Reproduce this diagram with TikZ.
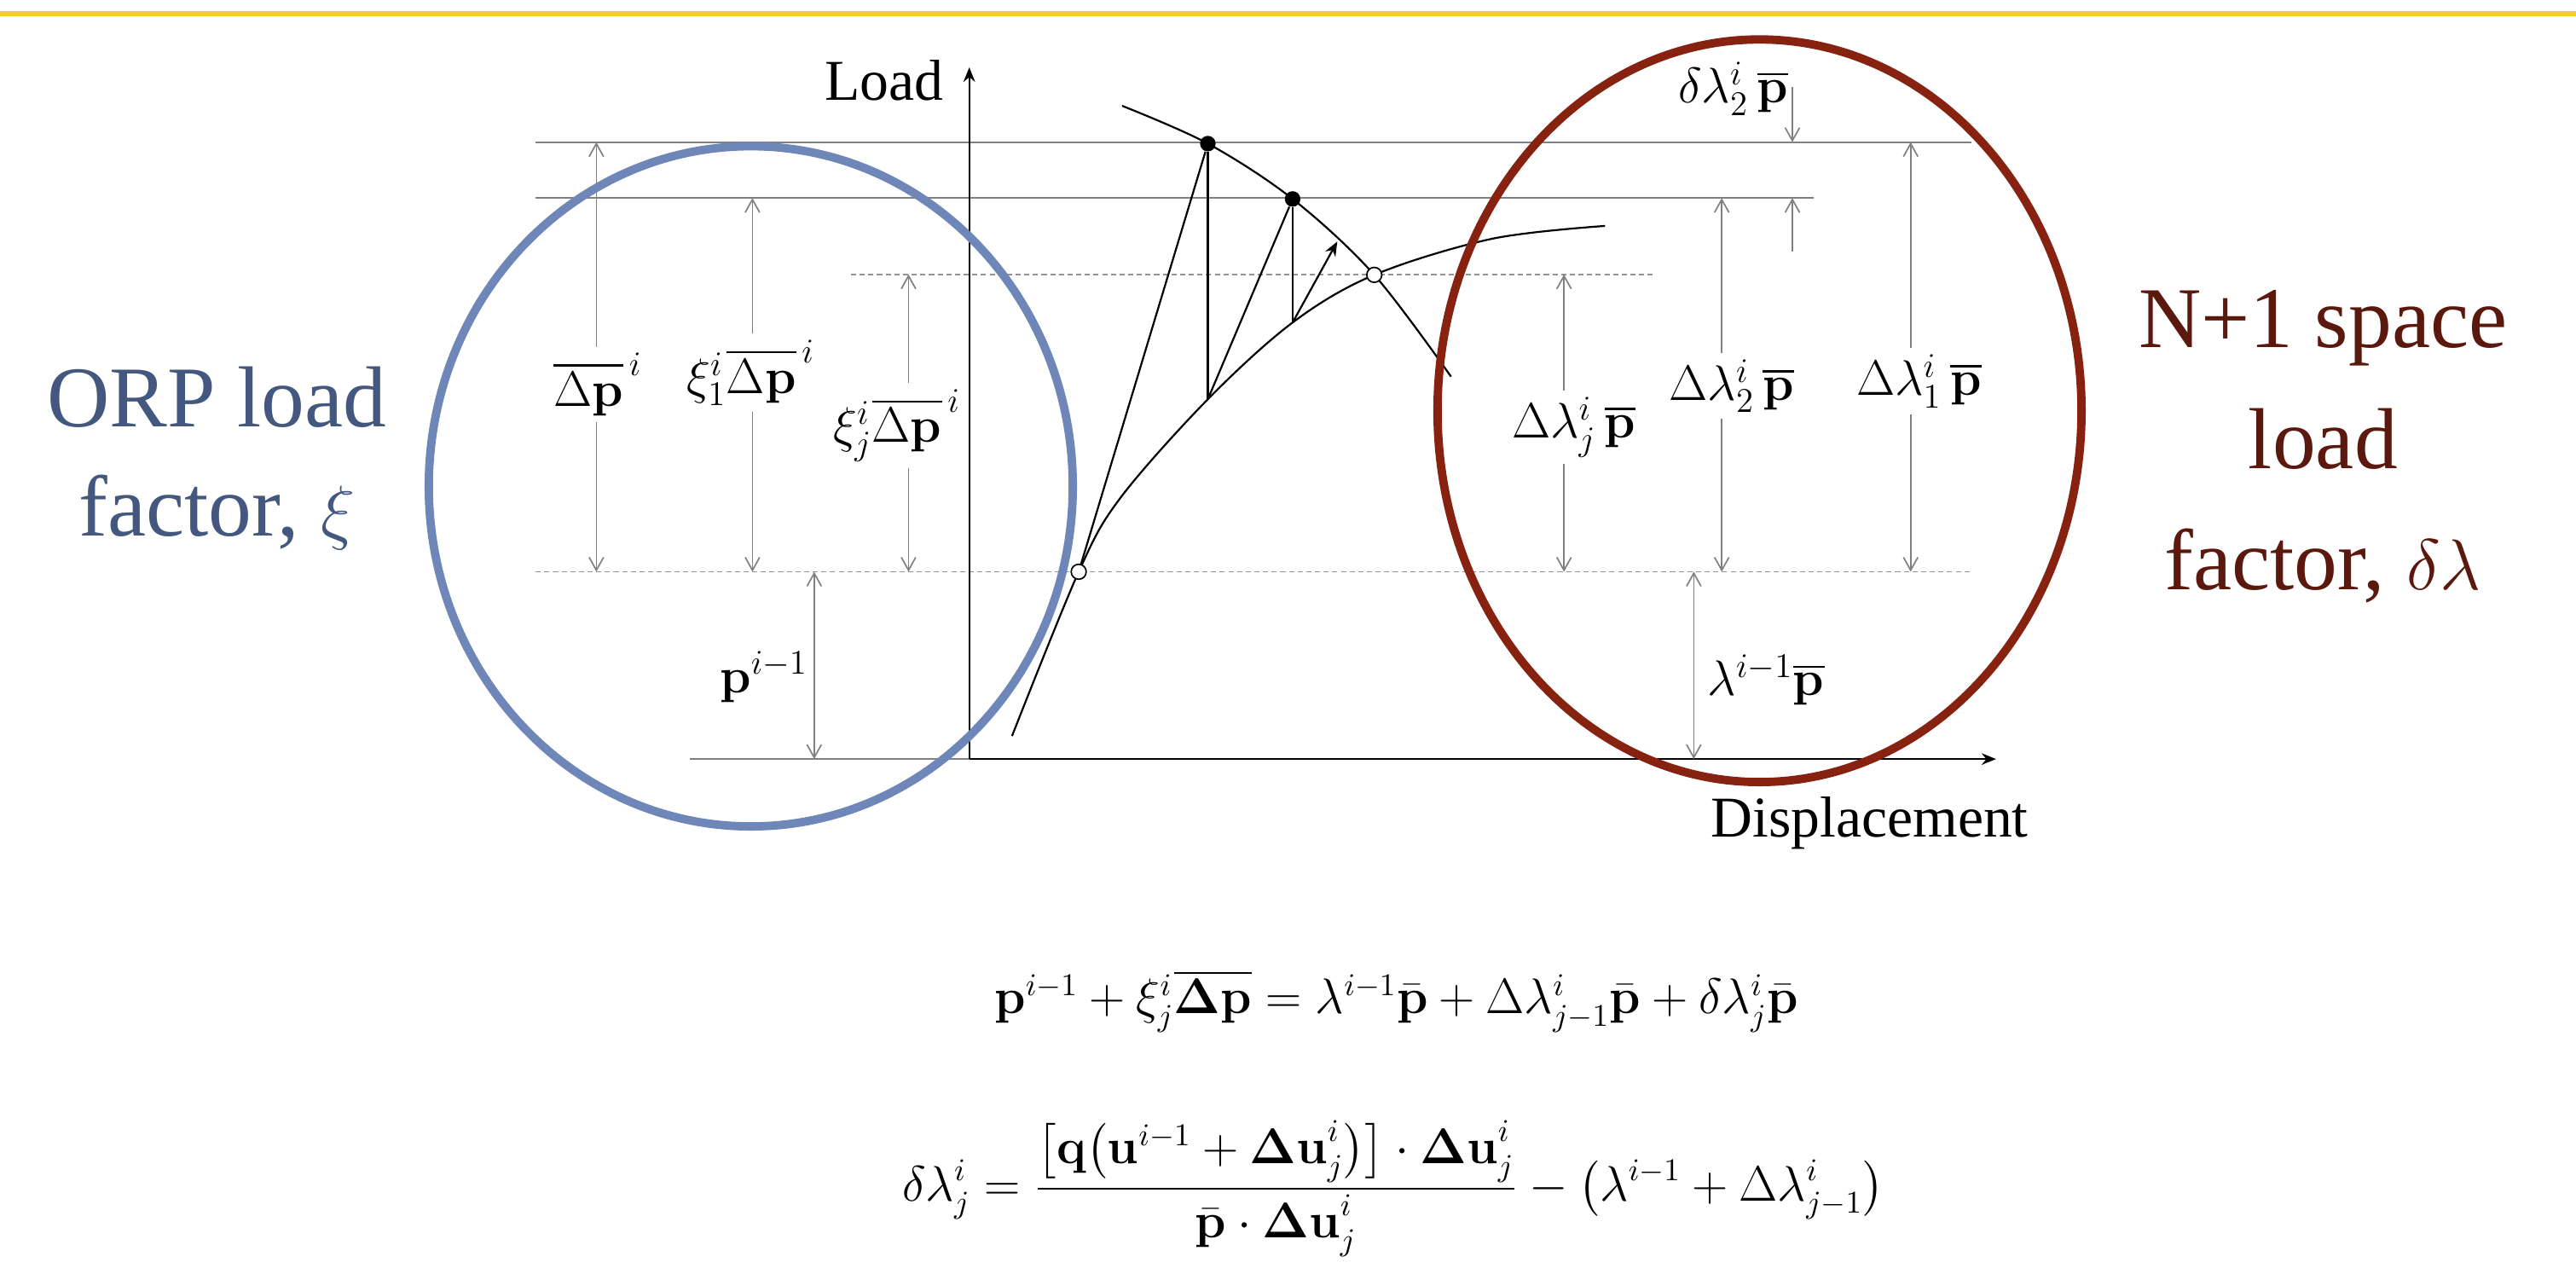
\documentclass[tikz,border=0pt]{standalone}
\usepackage{amsmath,amssymb}
\usepackage[no-math]{fontspec}
\setmainfont{Liberation Serif}
\usepackage{xcolor}
\usepackage{tikz}
\usetikzlibrary{arrows.meta}
\definecolor{cOrp}{HTML}{6F86B8}
\definecolor{cOrpT}{HTML}{44587F}
\definecolor{cNsp}{HTML}{86220F}
\definecolor{cNspT}{HTML}{5B180D}
\definecolor{cGr}{HTML}{808080}
\definecolor{cBar}{HTML}{F5CD2F}
\tikzset{
  orpRing/.style={line width=2.9pt, cOrp},
  nspRing/.style={line width=2.9pt, cNsp},
  gLine/.style={line width=0.6pt, cGr},
  dLine/.style={line width=0.5pt, cGr!85, dash pattern=on 1.8pt off 1.2pt},
  dimA/.style={line width=0.5pt, cGr, -{Straight Barb[length=4.5pt,width=5pt]}},
  dimAA/.style={line width=0.5pt, cGr, {Straight Barb[length=4.5pt,width=5pt]}-{Straight Barb[length=4.5pt,width=5pt]}},
  eqPath/.style={line width=0.65pt, black},
  axArr/.style={line width=0.65pt, black, -{Stealth[length=5pt,width=4pt]}},
  fdot/.style={circle, fill=black, inner sep=0pt, minimum size=5.4pt},
  odot/.style={circle, draw=black, fill=white, line width=0.5pt, inner sep=0pt, minimum size=5.2pt},
  lbl/.style={inner sep=2pt, font=\fontsize{17}{20}\selectfont},
}
\newcommand{\dimgap}[7]{\coordinate (#1t) at (#2,#3); \coordinate (#1b) at (#2,#4);
  \node[lbl] (#1) at (#5,#6) {#7};
  \draw[dimA] (#1t |- #1.north) -- (#1t); \draw[dimA] (#1t |- #1.south) -- (#1b);}

\begin{document}
\begin{tikzpicture}[x=0.02cm, y=-0.02cm]
\useasboundingbox (0,0) rectangle (1568,775);
\draw[line width=1.8pt, cBar] (0,8.3) -- (1568,8.3);
\draw[gLine] (326,86.5) -- (1200,86.5);
\draw[gLine] (326,120.5) -- (1104,120.5);
\draw[dLine] (518,167) -- (1008,167);
\draw[dLine] (326,348) -- (1200,348);
\draw[gLine] (420,462) -- (590,462);
\coordinate (O) at (590,462);
\coordinate (ytip) at (590,41);
\coordinate (xtip) at (1215,462);
\draw[axArr] (O) -- (ytip);
\draw[axArr] (O) -- (xtip);
\node[anchor=base, font=\fontsize{20}{24}\selectfont] (yl) at (538,61) {Load};
\node[anchor=base, font=\fontsize{20}{24}\selectfont] (xl) at (1138,509.5) {Displacement};
\draw[eqPath] plot[smooth, tension=0.55] coordinates {(616,448) (656.6,348) (682,303) (735.2,243) (786.8,196.3) (836.5,167.3) (908.3,145.3) (977,137.5)};
\draw[eqPath] plot[smooth, tension=0.55] coordinates {(683,64.4) (735.2,87.4) (786.8,121.1) (836.5,167.3) (883.2,229.2)};
\node[odot] (c0) at (656.6,348) {};
\node[fdot] (k1) at (735.2,87.4) {};
\node[fdot] (k2) at (786.8,121.1) {};
\node[odot] (c1) at (836.5,167.3) {};
\coordinate (e1) at (735.2,243);
\coordinate (e2) at (786.8,196.3);
\coordinate (r2) at (814,147);
\draw[eqPath] (c0) -- (k1);
\draw[eqPath] (k1) -- (e1);
\draw[eqPath] (e1) -- (k2);
\draw[eqPath] (k2) -- (e2);
\draw[eqPath, -{Stealth[length=5pt,width=4pt]}] (e2) -- (r2);
\dimgap{dp}{363}{86.5}{348}{364}{234}{$\overline{\Delta\mathbf{p}}^{\,i}$}
\dimgap{xa}{458}{120.5}{348}{457}{227}{$\xi_1^i\overline{\Delta\mathbf{p}}^{\,i}$}
\dimgap{xj}{553}{167}{348}{546}{259}{$\xi_j^i\overline{\Delta\mathbf{p}}^{\,i}$}
\dimgap{lj}{952}{167}{348}{958}{260}{$\Delta\lambda_j^i\,\overline{\mathbf{p}}$}
\dimgap{la}{1048}{120.5}{348}{1054}{235}{$\Delta\lambda_2^i\,\overline{\mathbf{p}}$}
\dimgap{lb}{1163}{86.5}{348}{1168}{232}{$\Delta\lambda_1^i\,\overline{\mathbf{p}}$}
\coordinate (pt) at (495.6,348); \coordinate (pb) at (495.6,462);
\draw[dimAA] (pt) -- (pb);
\node[lbl] (pl) at (465,412) {$\mathbf{p}^{i-1}$};
\coordinate (lt) at (1031,348); \coordinate (lbt) at (1031,462);
\draw[dimAA] (lt) -- (lbt);
\node[lbl] (ll) at (1075,414) {$\lambda^{i-1}\overline{\mathbf{p}}$};
\node[lbl] (dl) at (1055,54) {$\delta\lambda_2^i\,\overline{\mathbf{p}}$};
\coordinate (d1) at (1091,53); \coordinate (d1e) at (1091,86.5);
\coordinate (d2) at (1091,153); \coordinate (d2e) at (1091,120.5);
\draw[dimA] (d1) -- (d1e); \draw[dimA] (d2) -- (d2e);
\draw[orpRing] (457,296) ellipse [x radius=196, y radius=207];
\draw[nspRing] (1071,250) ellipse [x radius=196, y radius=226];
\node[align=center, text=cOrpT, font=\fontsize{30}{38}\selectfont] (orp) at (132,279) {ORP load\\factor, $\xi$};
\node[align=center, text=cNspT, font=\fontsize{30}{42}\selectfont] (nsp) at (1414,272) {N+1 space\\load\\factor, $\delta\lambda$};
\node[anchor=base, font=\fontsize{16}{19}\selectfont] (eqa) at (850,617) {$\mathbf{p}^{i-1}+\xi_j^i\overline{\mathbf{\Delta p}}=\lambda^{i-1}\bar{\mathbf{p}}+\Delta\lambda_{j-1}^i\bar{\mathbf{p}}+\delta\lambda_j^i\bar{\mathbf{p}}$};
\node[anchor=base, font=\fontsize{16}{19}\selectfont] (eqb) at (848,731) {$\displaystyle\delta\lambda_j^i=\frac{\bigl[\mathbf{q}\bigl(\mathbf{u}^{i-1}+\mathbf{\Delta u}_j^i\bigr)\bigr]\cdot\mathbf{\Delta u}_j^i}{\bar{\mathbf{p}}\cdot\mathbf{\Delta u}_j^i}-\bigl(\lambda^{i-1}+\Delta\lambda_{j-1}^i\bigr)$};
\end{tikzpicture}
\end{document}
